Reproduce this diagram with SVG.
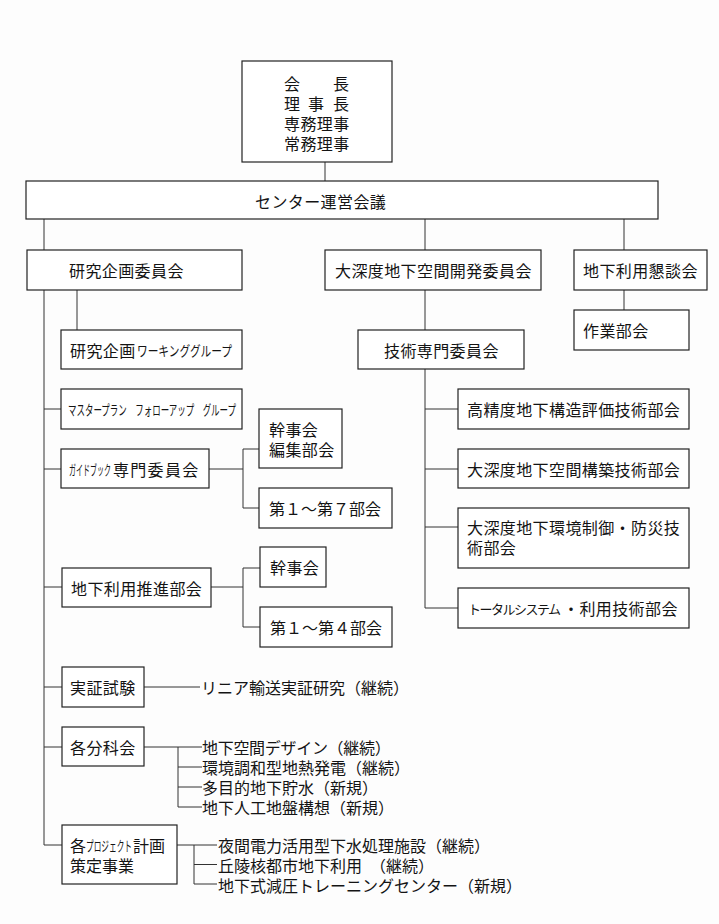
<svg xmlns="http://www.w3.org/2000/svg" width="719" height="924" viewBox="0 0 719 924">
<style>
.bg{fill:#fdfdfd}
.box{fill:#fff;stroke:#222;stroke-width:1.2}
.t{font-family:"Noto Sans CJK JP","Noto Sans CJK SC",sans-serif;font-size:16px;fill:#141414;letter-spacing:0.4px;dominant-baseline:central}
.n{letter-spacing:0}
.ln{stroke:#333;stroke-width:1;fill:none}
</style>
<rect class="bg" x="0" y="0" width="719" height="924"/>
<g id="connectors">
<path class="ln" d="M325 162V181"/>
<path class="ln" d="M44 219V845H62"/>
<path class="ln" d="M44 409H61M44 469H61M44 587H62M44 687H62M44 747H62"/>
<path class="ln" d="M77 290V330"/>
<path class="ln" d="M425 219V250M624 219V250M624 290V310M425 290V330"/>
<path class="ln" d="M425 369V608H458M425 409H458M425 469H458M425 527H458"/>
<path class="ln" d="M209 469H243M243 449V508M243 449H259M243 508H259"/>
<path class="ln" d="M211 587H243M243 568V627M243 568H260M243 627H260"/>
<path class="ln" d="M144 687H200"/>
<path class="ln" d="M144 747H202M178 747V807H202M178 767H202M178 787H202"/>
<path class="ln" d="M177 845H217M194 845V884H217M194 864.5H217"/>
</g>
<g id="n-top"><rect class="box" x="242" y="61" width="150" height="101"/>
<text class="t" x="284 333" y="83">会長</text>
<text class="t" x="284 308 333" y="103">理事長</text>
<text class="t" x="284" y="123">専務理事</text>
<text class="t" x="284" y="143">常務理事</text></g>
<g id="n-center"><rect class="box" x="26" y="181" width="632" height="38"/>
<text class="t" x="255" y="201">センター運営会議</text></g>
<g id="n-kenkyu"><rect class="box" x="27" y="250" width="215" height="40"/>
<text class="t" x="69" y="270">研究企画委員会</text></g>
<g id="n-wg"><rect class="box" x="61" y="330" width="181" height="39"/>
<text class="t" x="70" y="350">研究企画<tspan class="n" x="137" style="font-size:14px" textLength="95" lengthAdjust="spacingAndGlyphs">ワーキンググループ</tspan></text></g>
<g id="n-master"><rect class="box" x="61" y="389" width="181" height="40"/>
<text class="t n" x="68" y="409" style="font-size:14px" textLength="168" lengthAdjust="spacingAndGlyphs">マスタープラン　フォローアップ　グループ</text></g>
<g id="n-guide"><rect class="box" x="61" y="449" width="148" height="39"/>
<text class="t n" x="69" y="469"><tspan style="font-size:14px" textLength="42" lengthAdjust="spacingAndGlyphs">ガイドブック</tspan><tspan x="113" style="letter-spacing:1.3px">専門委員会</tspan></text></g>
<g id="n-kanji1"><rect class="box" x="259" y="409" width="83" height="59"/>
<text class="t" x="269" y="429">幹事会</text>
<text class="t" x="269" y="449">編集部会</text></g>
<g id="n-dai17"><rect class="box" x="259" y="488" width="133" height="40"/>
<text class="t n" x="269" y="508">第１～第７部会</text></g>
<g id="n-suishin"><rect class="box" x="62" y="568" width="149" height="39"/>
<text class="t" x="71" y="588">地下利用推進部会</text></g>
<g id="n-kanji2"><rect class="box" x="260" y="547" width="66" height="40"/>
<text class="t" x="270" y="567">幹事会</text></g>
<g id="n-dai14"><rect class="box" x="260" y="607" width="132" height="40"/>
<text class="t n" x="270" y="627">第１～第４部会</text></g>
<g id="n-jissho"><rect class="box" x="62" y="667" width="82" height="40"/>
<text class="t" x="70" y="687">実証試験</text>
<text class="t n" x="201" y="687">リニア輸送実証研究（継続）</text></g>
<g id="n-bunka"><rect class="box" x="62" y="727" width="82" height="39"/>
<text class="t" x="70" y="747">各分科会</text>
<text class="t" x="202" y="747" style="letter-spacing:-0.3px">地下空間デザイン（継続）</text>
<text class="t n" x="202" y="767">環境調和型地熱発電（継続）</text>
<text class="t n" x="202" y="787">多目的地下貯水（新規）</text>
<text class="t n" x="202" y="807">地下人工地盤構想（新規）</text></g>
<g id="n-project"><rect class="box" x="62" y="825" width="115" height="59"/>
<text class="t n" x="70" y="844.5">各<tspan x="86" style="font-size:14px" textLength="46" lengthAdjust="spacingAndGlyphs">プロジェクト</tspan><tspan x="133">計画</tspan></text>
<text class="t n" x="70" y="864.5">策定事業</text>
<text class="t n" x="218" y="844.5">夜間電力活用型下水処理施設（継続）</text>
<text class="t n" x="218" y="864.5">丘陵核都市地下利用　（継続）</text>
<text class="t n" x="218" y="884.5">地下式減圧トレーニングセンター（新規）</text></g>
<g id="n-daishindo"><rect class="box" x="325" y="250" width="216" height="40"/>
<text class="t" x="335" y="270">大深度地下空間開発委員会</text></g>
<g id="n-kondan"><rect class="box" x="574" y="250" width="133" height="40"/>
<text class="t" x="583" y="270">地下利用懇談会</text></g>
<g id="n-sagyo"><rect class="box" x="574" y="310" width="115" height="40"/>
<text class="t" x="583" y="330">作業部会</text></g>
<g id="n-gijutsu"><rect class="box" x="358" y="330" width="166" height="39"/>
<text class="t" x="384" y="350">技術専門委員会</text></g>
<g id="n-koseido"><rect class="box" x="458" y="389" width="231" height="40"/>
<text class="t" x="467" y="409">高精度地下構造評価技術部会</text></g>
<g id="n-kouchiku"><rect class="box" x="458" y="449" width="231" height="39"/>
<text class="t" x="467" y="469">大深度地下空間構築技術部会</text></g>
<g id="n-kankyo"><rect class="box" x="458" y="508" width="231" height="60"/>
<text class="t" x="467" y="527">大深度地下環境制御・防災技</text>
<text class="t" x="467" y="547">術部会</text></g>
<g id="n-total"><rect class="box" x="458" y="588" width="231" height="40"/>
<text class="t" x="468" y="608"><tspan class="n" style="font-size:13px" textLength="93" lengthAdjust="spacing">トータルシステム</tspan><tspan x="563">・利用技術部会</tspan></text></g>
</svg>
